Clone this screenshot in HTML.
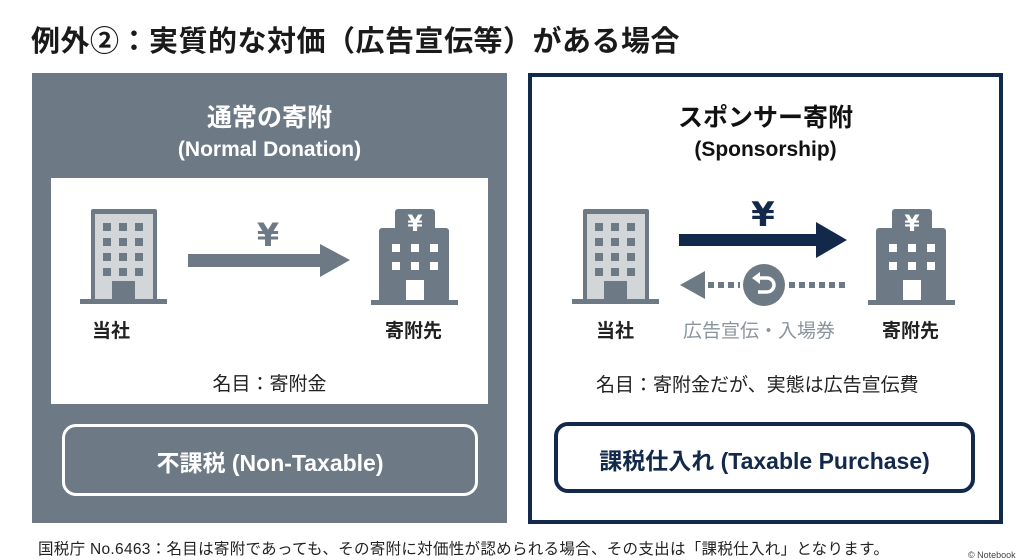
<!DOCTYPE html>
<html><head><meta charset="utf-8"><style>
body{margin:0;width:1024px;height:559px;background:#fff;position:relative;overflow:hidden;font-family:"Liberation Sans","Noto Sans CJK JP",sans-serif;}
.a{position:absolute;}
.t{white-space:nowrap;}
</style></head><body>
<div class="a t" style="left:31px;top:18px;font-size:29px;font-weight:bold;color:#1a1a1a;letter-spacing:0.5px;">例外②：実質的な対価（広告宣伝等）がある場合</div>

<div class="a" style="left:32px;top:73px;width:475px;height:450px;background:#6d7a86;"></div>
<div class="a t" style="left:32px;top:98px;width:475px;text-align:center;font-size:25px;font-weight:bold;color:#fff;">通常の寄附</div>
<div class="a t" style="left:32px;top:138px;width:475px;text-align:center;font-size:21px;font-weight:bold;color:#fff;">(Normal Donation)</div>
<div class="a" style="left:51px;top:178px;width:437px;height:226px;background:#fff;"></div>
<div class="a" style="left:62px;top:424px;width:410px;height:66px;border:3px solid #fff;border-radius:14px;"></div>
<div class="a t" style="left:62px;top:444px;width:416px;text-align:center;font-size:23px;font-weight:bold;color:#fff;">不課税 (Non-Taxable)</div>

<div class="a" style="left:528px;top:73px;width:467px;height:443px;border:4px solid #13294b;"></div>
<div class="a t" style="left:528px;top:98px;width:475px;text-align:center;font-size:25px;font-weight:bold;color:#111;">スポンサー寄附</div>
<div class="a t" style="left:528px;top:138px;width:475px;text-align:center;font-size:21px;font-weight:bold;color:#111;">(Sponsorship)</div>
<div class="a" style="left:554px;top:422px;width:413px;height:63px;border:4px solid #13294b;border-radius:14px;"></div>
<div class="a t" style="left:554px;top:442px;width:421px;text-align:center;font-size:23px;font-weight:bold;color:#13294b;">課税仕入れ (Taxable Purchase)</div>

<svg class="a" style="left:0;top:0" width="1024" height="559">
<defs>
<g id="co">
<rect x="11" y="0" width="66" height="92" rx="2" fill="#6d7a86"/>
<rect x="15" y="5" width="58" height="87" fill="#d3d6d9"/>
<rect x="0" y="90" width="87" height="5" fill="#6d7a86"/>
<g fill="#6d7a86">
<rect x="23" y="14" width="8" height="8"/><rect x="39" y="14" width="8" height="8"/><rect x="55" y="14" width="8" height="8"/>
<rect x="23" y="29" width="8" height="8"/><rect x="39" y="29" width="8" height="8"/><rect x="55" y="29" width="8" height="8"/>
<rect x="23" y="44" width="8" height="8"/><rect x="39" y="44" width="8" height="8"/><rect x="55" y="44" width="8" height="8"/>
<rect x="23" y="59" width="8" height="8"/><rect x="39" y="59" width="8" height="8"/><rect x="55" y="59" width="8" height="8"/>
<rect x="32" y="72" width="23" height="20"/>
</g>
</g>
<g id="rc">
<rect x="24" y="0" width="40" height="25" rx="3" fill="#6d7a86"/>
<rect x="8" y="19" width="70" height="74" rx="3" fill="#6d7a86"/>
<rect x="0" y="91" width="87" height="5" fill="#6d7a86"/>
<text x="44" y="22" font-size="22" font-weight="bold" fill="#fff" text-anchor="middle" font-family="DejaVu Sans,sans-serif">¥</text>
<g fill="#fff">
<rect x="21" y="35" width="8" height="8"/><rect x="40" y="35" width="8" height="8"/><rect x="59" y="35" width="8" height="8"/>
<rect x="21" y="53" width="8" height="8"/><rect x="40" y="53" width="8" height="8"/><rect x="59" y="53" width="8" height="8"/>
<rect x="35" y="71" width="18" height="20"/>
</g>
</g>
</defs>
<use href="#co" x="80" y="209"/>
<use href="#rc" x="371" y="209"/>
<use href="#co" x="572" y="209"/>
<use href="#rc" x="868" y="209"/>
<rect x="188" y="254" width="135" height="13" fill="#6d7a86"/>
<polygon points="320,244 350,260 320,277" fill="#6d7a86"/>
<text x="268" y="246" font-size="32" font-weight="bold" fill="#6d7a86" text-anchor="middle" font-family="DejaVu Sans,sans-serif">¥</text>
<rect x="679" y="234" width="140" height="12" fill="#13294b"/>
<polygon points="816,222 847,240 816,258" fill="#13294b"/>
<text x="763" y="226" font-size="34" font-weight="bold" fill="#13294b" text-anchor="middle" font-family="DejaVu Sans,sans-serif">¥</text>
<polygon points="680,285 705,271 705,299" fill="#6d7a86"/>
<line x1="708" y1="285" x2="740" y2="285" stroke="#6d7a86" stroke-width="6" stroke-dasharray="6,4"/>
<line x1="789" y1="285" x2="847" y2="285" stroke="#6d7a86" stroke-width="6" stroke-dasharray="6,4"/>
<circle cx="764" cy="285" r="21" fill="#6d7a86"/>
<path d="M758,278 h9 a7,7 0 0 1 0,14 h-9" stroke="#fff" stroke-width="3.5" fill="none"/>
<polygon points="752,278 760,272 760,284" fill="#fff"/>
</svg>

<div class="a t" style="left:92px;top:316px;font-size:19px;font-weight:bold;color:#222;">当社</div>
<div class="a t" style="left:385px;top:316px;font-size:19px;font-weight:bold;color:#222;">寄附先</div>
<div class="a t" style="left:51px;top:369px;width:437px;text-align:center;font-size:19px;color:#222;">名目：寄附金</div>

<div class="a t" style="left:596px;top:316px;font-size:19px;font-weight:bold;color:#222;">当社</div>
<div class="a t" style="left:882px;top:316px;font-size:19px;font-weight:bold;color:#222;">寄附先</div>
<div class="a t" style="left:683px;top:316px;font-size:19px;color:#8a949d;">広告宣伝・入場券</div>
<div class="a t" style="left:596px;top:370px;font-size:19px;color:#222;">名目：寄附金だが、実態は広告宣伝費</div>

<div class="a t" style="left:38px;top:537px;font-size:15.5px;color:#222;letter-spacing:0.3px;">国税庁 No.6463：名目は寄附であっても、その寄附に対価性が認められる場合、その支出は「課税仕入れ」となります。</div>
<div class="a t" style="left:968px;top:550px;font-size:9px;color:#444;">© Notebook</div>
</body></html>
